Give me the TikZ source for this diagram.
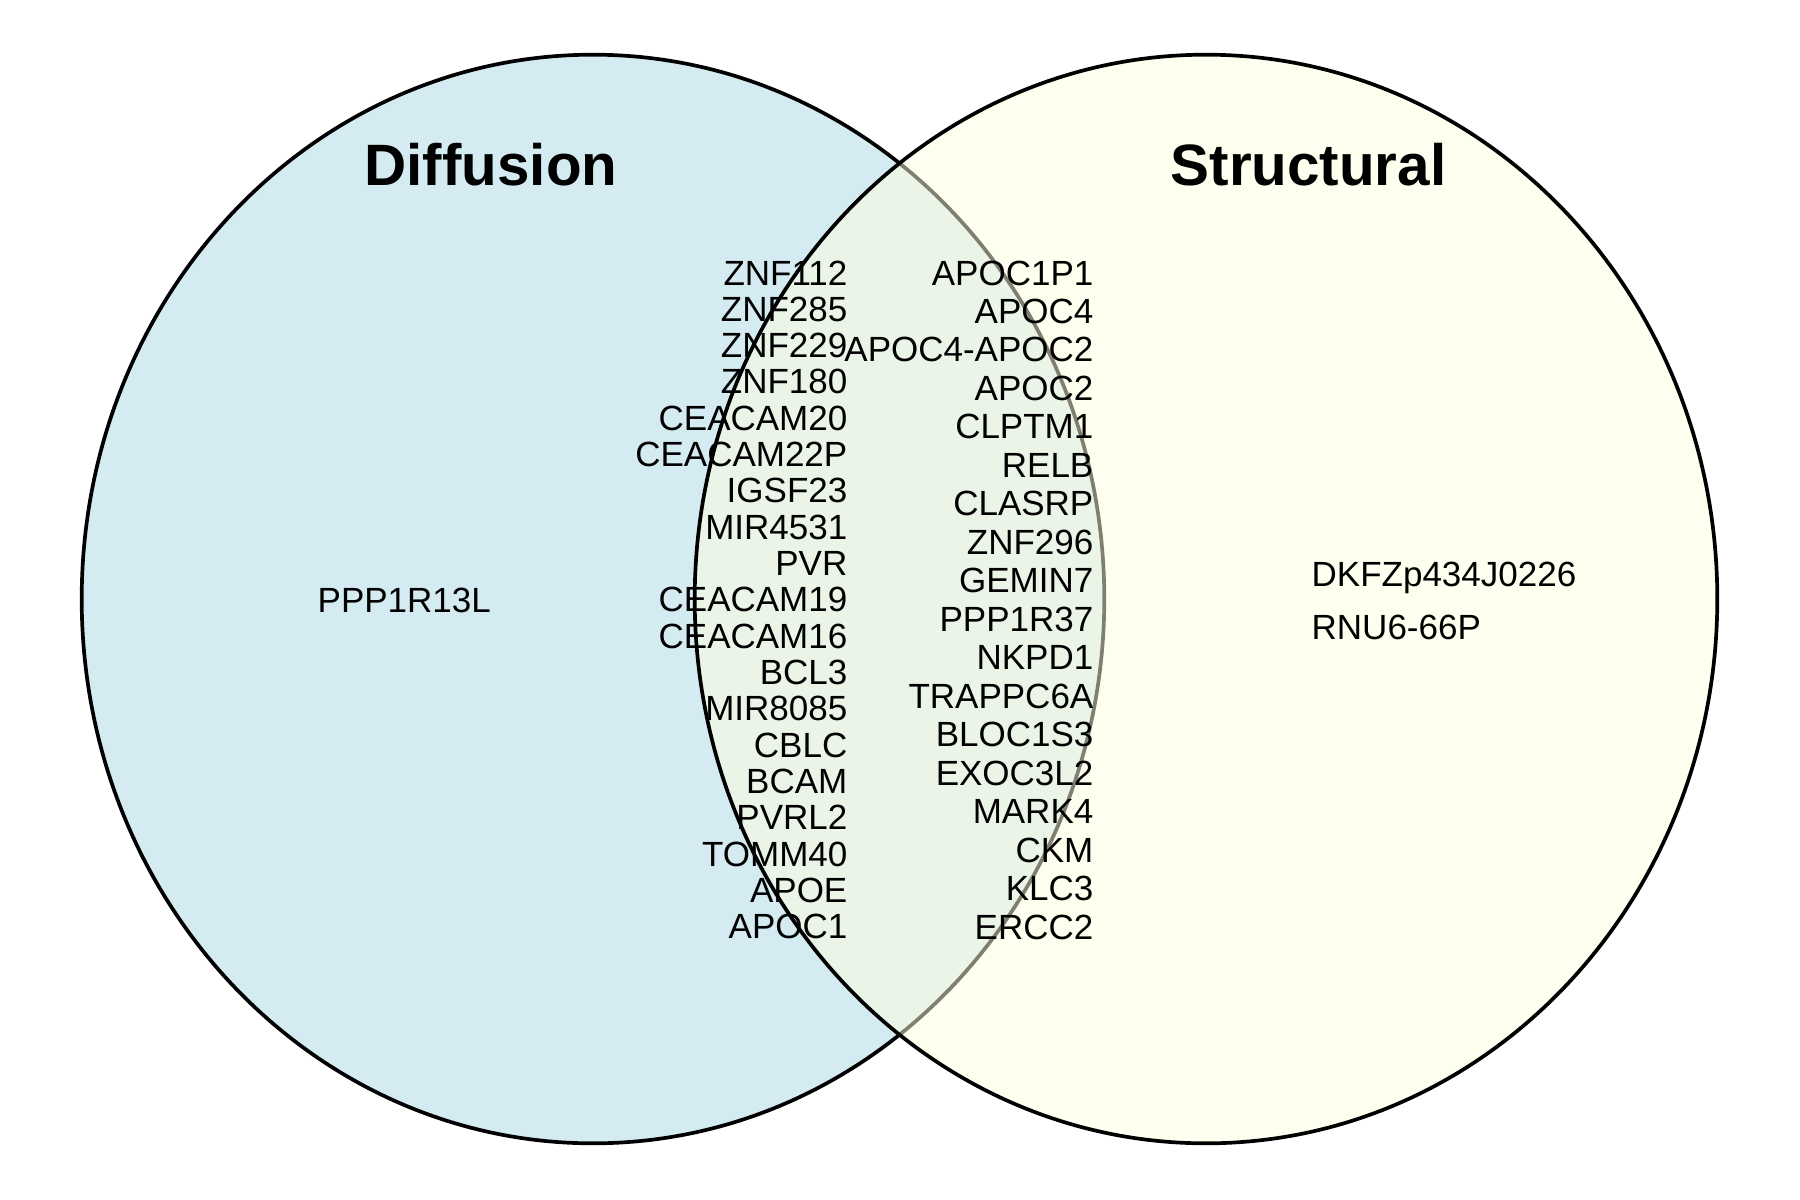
\documentclass[tikz,border=0pt]{standalone}
\usepackage{fontspec}
\setmainfont{Liberation Sans}
\begin{document}
\begin{tikzpicture}[x=0.01cm,y=-0.01cm,
  gene/.style={inner sep=0pt, font=\fontsize{9.95pt}{11pt}\selectfont},
  title/.style={inner sep=0pt, anchor=base, font=\fontsize{16.6pt}{19pt}\selectfont\bfseries},
  setshape/.style={fill opacity=0.5, draw=black, line width=1.05pt},
]
\definecolor{lblue}{RGB}{173,216,230}
\definecolor{lyellow}{RGB}{255,255,224}
\useasboundingbox (0,0) rectangle (1800,1200);
\fill[white] (0,0) rectangle (1800,1200);
\path[setshape, fill=lblue] (593,599) ellipse [x radius=5.11cm, y radius=5.44cm];
\path[setshape, fill=lyellow] (1206,599) ellipse [x radius=5.11cm, y radius=5.44cm];
\node[title] (tA) at (491,185) {Diffusion};
\node[title] (tB) at (1308.5,185) {Structural};
\node[gene, anchor=base west] (onlyA) at (317,612) {PPP1R13L};
\node[gene, anchor=base west] (onlyB1) at (1311,586) {DKFZp434J0226};
\node[gene, anchor=base west] (onlyB2) at (1311,639) {RNU6-66P};
\foreach \t [count=\i] in {ZNF112,ZNF285,ZNF229,ZNF180,CEACAM20,CEACAM22P,IGSF23,MIR4531,PVR,CEACAM19,CEACAM16,BCL3,MIR8085,CBLC,BCAM,PVRL2,TOMM40,APOE,APOC1}
  \node[gene, anchor=base east] (l\i) at (848,{285+(\i-1)*36.33}) {\t};
\foreach \t [count=\i] in {APOC1P1,APOC4,APOC4-APOC2,APOC2,CLPTM1,RELB,CLASRP,ZNF296,GEMIN7,PPP1R37,NKPD1,TRAPPC6A,BLOC1S3,EXOC3L2,MARK4,CKM,KLC3,ERCC2}
  \node[gene, anchor=base east] (r\i) at (1094,{285+(\i-1)*38.47}) {\t};
\end{tikzpicture}
\end{document}
